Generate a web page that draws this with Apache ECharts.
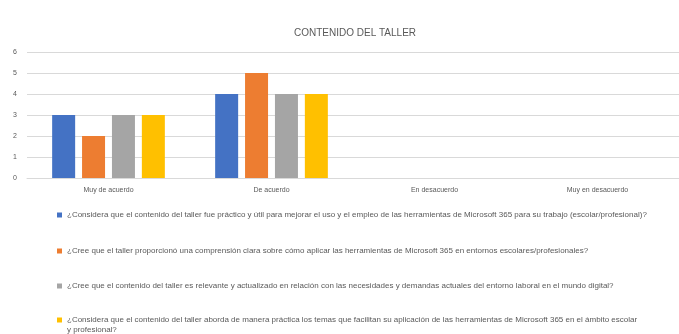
<!DOCTYPE html>
<html>
<head>
<meta charset="utf-8">
<script src="https://cdn.jsdelivr.net/npm/echarts@6/dist/echarts.min.js"></script>
<style>
  html, body { margin: 0; padding: 0; background: #fff; }
  #chart { width: 679px; height: 334px; }
</style>
</head>
<body>
<div id="chart"></div>
<script>
// Answer scale shown along the x axis
const categories = ['Muy de acuerdo', 'De acuerdo', 'En desacuerdo', 'Muy en desacuerdo'];

// Survey questions (one series each)
const questions = [
  '¿Considera que el contenido del taller fue práctico y útil para mejorar el uso y el empleo de las herramientas de Microsoft 365 para su trabajo (escolar/profesional)?',
  '¿Cree que el taller proporcionó una comprensión clara sobre cómo aplicar las herramientas de Microsoft 365 en entornos escolares/profesionales?',
  '¿Cree que el contenido del taller es relevante y actualizado en relación con las necesidades y demandas actuales del entorno laboral en el mundo digital?',
  '¿Considera que el contenido del taller aborda de manera práctica los temas que facilitan su aplicación de las herramientas de Microsoft 365 en el ámbito escolar y profesional?'
];

// Number of responses per answer, one array per question
const q1Values = [3, 4, 0, 0];
const q2Values = [2, 5, 0, 0];
const q3Values = [3, 4, 0, 0];
const q4Values = [3, 4, 0, 0];

const yTicks = [0, 1, 2, 3, 4, 5, 6];

const colors = ['#4472C4', '#ED7D31', '#A5A5A5', '#FFC000'];
const seriesValues = [q1Values, q2Values, q3Values, q4Values];

// Each question gets its own legend row, stacked below the plot
const legendTops = [205, 241, 276, 300];

const legendText = {
  fontFamily: 'Liberation Sans, sans-serif',
  fontSize: 8,
  color: '#595959',
  lineHeight: 10
};

const chart = echarts.init(document.getElementById('chart'), null, { renderer: 'canvas' });

chart.setOption({
  animation: false,
  backgroundColor: '#ffffff',
  color: colors,
  title: {
    text: 'CONTENIDO DEL TALLER',
    left: 350,
    top: 23,
    textAlign: 'center',
    textStyle: {
      fontFamily: 'Liberation Sans, sans-serif',
      fontSize: 10,
      fontWeight: 'normal',
      color: '#595959'
    }
  },
  legend: questions.map((q, i) => {
    const wraps = i === 3;
    return {
      orient: 'vertical',
      left: 52,
      top: legendTops[i],
      itemWidth: 5,
      itemHeight: 5,
      icon: 'rect',
      selectedMode: false,
      // the long last question wraps; a leading blank line keeps the marker on its first line
      formatter: wraps ? (name) => '\n' + name : undefined,
      textStyle: wraps
        ? Object.assign({}, legendText, { width: 590, overflow: 'break' })
        : legendText,
      data: [q]
    };
  }),
  grid: {
    left: 27,
    top: 52,
    width: 663,
    height: 126,
    containLabel: false
  },
  xAxis: {
    type: 'category',
    data: categories,
    axisLine: { show: true, lineStyle: { color: '#d9d9d9' } },
    axisTick: { show: false },
    axisLabel: {
      fontFamily: 'Liberation Sans, sans-serif',
      fontSize: 7,
      color: '#595959',
      margin: 9
    }
  },
  yAxis: {
    type: 'value',
    min: yTicks[0],
    max: yTicks[yTicks.length - 1],
    interval: 1,
    axisLine: { show: false },
    axisTick: { show: false },
    splitLine: { lineStyle: { color: '#d9d9d9', width: 1 } },
    axisLabel: {
      fontFamily: 'Liberation Sans, sans-serif',
      fontSize: 7,
      color: '#595959',
      margin: 10
    }
  },
  series: questions.map((q, i) => ({
    name: q,
    type: 'bar',
    data: seriesValues[i],
    barWidth: 23,
    barGap: '30%',
    itemStyle: { color: colors[i] }
  }))
});
</script>
</body>
</html>
